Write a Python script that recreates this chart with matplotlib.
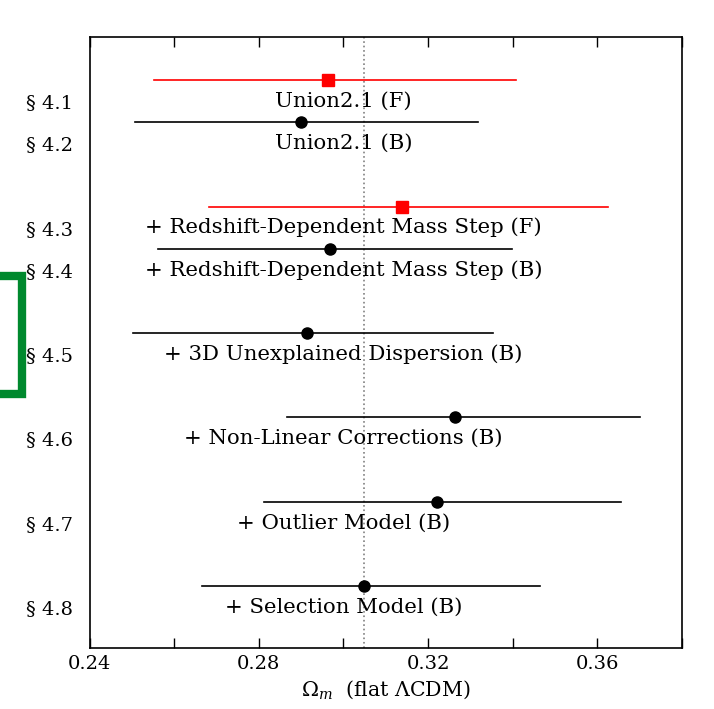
import matplotlib
matplotlib.use("Agg")
import matplotlib.pyplot as plt
from matplotlib.lines import Line2D
import numpy as np

plt.rcParams['font.family'] = 'DejaVu Serif'
plt.rcParams['mathtext.fontset'] = 'dejavuserif'

# rows, top to bottom
sections = ['§ 4.1', '§ 4.2', '§ 4.3', '§ 4.4', '§ 4.5', '§ 4.6', '§ 4.7', '§ 4.8']
row_pos = [0, 1, 3, 4, 6, 8, 10, 12]
labels = ['Union2.1 (F)', 'Union2.1 (B)',
          '+ Redshift-Dependent Mass Step (F)', '+ Redshift-Dependent Mass Step (B)',
          '+ 3D Unexplained Dispersion (B)', '+ Non-Linear Corrections (B)',
          '+ Outlier Model (B)', '+ Selection Model (B)']
om_best = [0.2964, 0.2900, 0.3138, 0.2968, 0.2913, 0.3263, 0.3221, 0.3048]
om_low = [0.2551, 0.2507, 0.2682, 0.2561, 0.2502, 0.2866, 0.2811, 0.2665]
om_high = [0.3407, 0.3318, 0.3625, 0.3398, 0.3353, 0.3700, 0.3657, 0.3464]
is_freq = [True, False, True, False, False, False, False, False]
om_ref = 0.3048

fig = plt.figure(figsize=(7.14, 7.09), dpi=100)
ax = fig.add_axes([0.1256, 0.086, 0.8294, 0.8618])

ax.axvline(om_ref, color='gray', ls=':', lw=1.2, zorder=0)

for i in range(len(labels)):
    y = row_pos[i] - 0.5
    if is_freq[i]:
        col, mk = 'red', 's'
    else:
        col, mk = 'black', 'o'
    ax.plot([om_low[i], om_high[i]], [y, y], color=col, lw=1.2)
    ax.plot(om_best[i], y, marker=mk, color=col, ms=8, mec=col)
    ax.text(0.300, row_pos[i], labels[i], ha='center', va='center', fontsize=15.3)

ax.set_xlim(0.24, 0.38)
ax.set_ylim(12.97, -1.52)
ax.set_xticks(np.arange(0.24, 0.3801, 0.02))
ax.set_xticklabels(['0.24', '', '0.28', '', '0.32', '', '0.36', ''], fontsize=14)
ax.tick_params(axis='x', direction='in', top=True, length=7, width=1, pad=5)
ax.set_yticks(row_pos)
ax.set_yticklabels(sections, fontsize=14)
ax.tick_params(axis='y', length=0, pad=12)
for s in ax.spines.values():
    s.set_linewidth(1.2)
ax.set_xlabel(r'$\Omega_m$  (flat $\Lambda$CDM)', fontsize=14.8, labelpad=4)

# green marker drawn over the left edge
W, H = 714, 709
bx = [0, 22, 22, 0]
by = [276, 276, 394, 394]
fig.add_artist(Line2D([v / W for v in bx], [1 - v / H for v in by],
                      color='#00892e', lw=6, solid_capstyle='butt',
                      solid_joinstyle='miter', transform=fig.transFigure))

fig.savefig('out.png', dpi=100)
